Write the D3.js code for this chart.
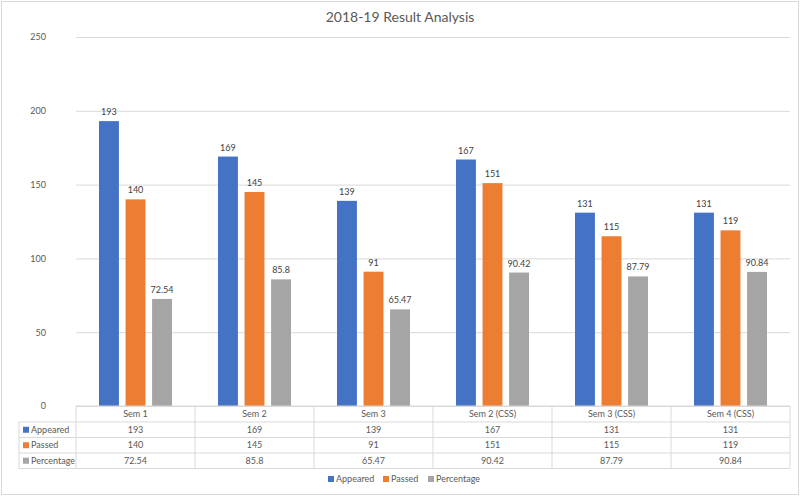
<!DOCTYPE html>
<html>
<head>
<meta charset="utf-8">
<script src="https://cdn.jsdelivr.net/npm/d3@7"></script>
<style>
  body { margin: 0; background: #fff; }
  svg { font-family: Lato, "Open Sans", sans-serif; }
</style>
</head>
<body>
<svg id="chart" width="800" height="496"></svg>
<script>
// 2018-19 result analysis: grouped bars with a data table under the x axis
const categories = ['Sem 1', 'Sem 2', 'Sem 3', 'Sem 2 (CSS)', 'Sem 3 (CSS)', 'Sem 4 (CSS)'];
const seriesNames = ['Appeared', 'Passed', 'Percentage'];
const appeared = [193, 169, 139, 167, 131, 131];
const passed = [140, 145, 91, 151, 115, 119];
const percentage = [72.54, 85.8, 65.47, 90.42, 87.79, 90.84];
const yTicks = [0, 50, 100, 150, 200, 250];

const colors = ['#4472C4', '#ED7D31', '#A5A5A5'];
const series = [appeared, passed, percentage];
const W = 800, H = 496;
const M = { left: 76, right: 10, top: 37, bottom: 90 };
const textCol = '#595959', gridCol = '#D9D9D9';

const svg = d3.select('#chart');
svg.append('rect').attr('x', 1.5).attr('y', 1.5).attr('width', W - 3).attr('height', H - 3)
  .attr('fill', '#fff').attr('stroke', '#D9D9D9');

svg.append('text').attr('x', 400).attr('y', 22).attr('text-anchor', 'middle')
  .attr('font-size', 14).attr('fill', textCol).text('2018-19 Result Analysis');

const x = d3.scaleBand().domain(categories).range([M.left, W - M.right]);
const y = d3.scaleLinear().domain([0, 250]).range([H - M.bottom, M.top]);
const xs = d3.scaleBand().domain(d3.range(3)).range([23, x.bandwidth() - 23]).paddingInner(0.25);

// y axis ticks + grid
const yAxis = svg.append('g').attr('transform', `translate(${M.left},0)`)
  .call(d3.axisLeft(y).tickValues(yTicks).tickSize(-(W - M.left - M.right)).tickPadding(30));
yAxis.select('.domain').remove();
yAxis.selectAll('line').attr('stroke', gridCol);
yAxis.selectAll('text').attr('fill', textCol).attr('font-size', 9).attr('font-family', 'Lato, sans-serif');

// bars
categories.forEach((c, i) => {
  const g = svg.append('g').attr('transform', `translate(${x(c)},0)`);
  series.forEach((s, k) => {
    g.append('rect').attr('x', xs(k)).attr('y', y(s[i]))
      .attr('width', xs.bandwidth()).attr('height', y(0) - y(s[i])).attr('fill', colors[k]);
    g.append('text').attr('x', xs(k) + xs.bandwidth() / 2).attr('y', y(s[i]) - 6)
      .attr('text-anchor', 'middle').attr('font-size', 9).attr('fill', '#404040').text(s[i]);
  });
});

// data table
const y0 = y(0), headH = 16, rowH = 15.5, keyL = 19;
const tb = svg.append('g').attr('stroke', gridCol).attr('fill', 'none');
const tableBottom = y0 + headH + rowH * 3;
// horizontal lines
tb.append('line').attr('x1', M.left).attr('x2', W - M.right).attr('y1', y0).attr('y2', y0);
for (let r = 0; r <= 3; r++) {
  const yy = y0 + headH + rowH * r;
  tb.append('line').attr('x1', keyL).attr('x2', W - M.right).attr('y1', yy).attr('y2', yy);
}
// vertical lines
tb.append('line').attr('x1', keyL).attr('x2', keyL).attr('y1', y0 + headH).attr('y2', tableBottom);
categories.forEach(c => {
  tb.append('line').attr('x1', x(c)).attr('x2', x(c)).attr('y1', y0).attr('y2', tableBottom);
});
tb.append('line').attr('x1', W - M.right).attr('x2', W - M.right).attr('y1', y0).attr('y2', tableBottom);

const tt = svg.append('g').attr('font-size', 9).attr('fill', textCol).attr('text-anchor', 'middle');
categories.forEach((c, i) => {
  tt.append('text').attr('x', x(c) + x.bandwidth() / 2).attr('y', y0 + headH / 2 + 3).text(c);
  series.forEach((s, k) => {
    tt.append('text').attr('x', x(c) + x.bandwidth() / 2)
      .attr('y', y0 + headH + rowH * k + rowH / 2 + 3).text(s[i]);
  });
});
seriesNames.forEach((n, k) => {
  const cy = y0 + headH + rowH * k + rowH / 2;
  svg.append('rect').attr('x', keyL + 4).attr('y', cy - 3).attr('width', 6).attr('height', 6).attr('fill', colors[k]);
  svg.append('text').attr('x', keyL + 12).attr('y', cy + 3).attr('font-size', 9).attr('fill', textCol).text(n);
});

// legend
const leg = svg.append('g').attr('font-size', 9).attr('fill', textCol);
const legX = [328, 383, 428];
seriesNames.forEach((n, k) => {
  leg.append('rect').attr('x', legX[k]).attr('y', 476).attr('width', 6).attr('height', 6).attr('fill', colors[k]);
  leg.append('text').attr('x', legX[k] + 8).attr('y', 482).text(n);
});
</script>
</body>
</html>
